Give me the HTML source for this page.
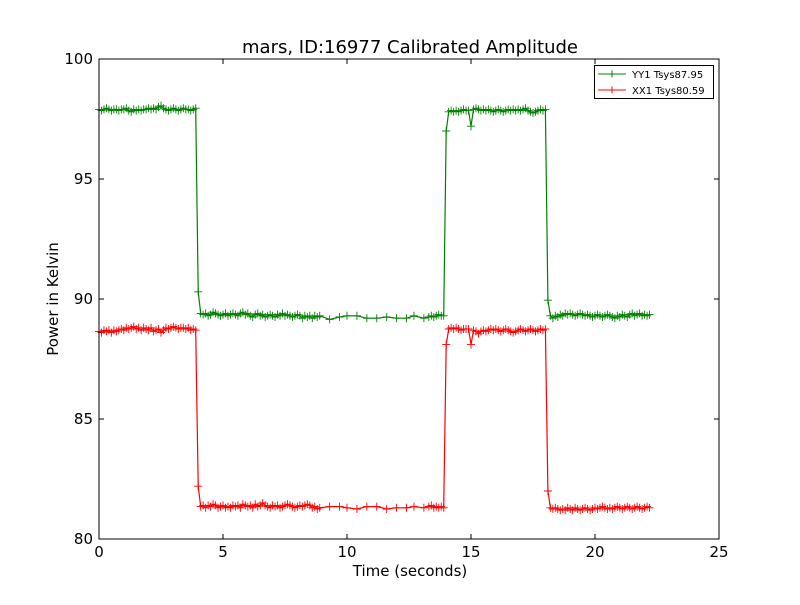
<!DOCTYPE html>
<html><head><meta charset="utf-8"><style>
body{margin:0;background:#fff;}
svg text{font-family:"DejaVu Sans","Liberation Sans",sans-serif;fill:#000;}
</style></head><body>
<svg id="chart" width="800" height="600" viewBox="0 0 800 600" xmlns="http://www.w3.org/2000/svg">
<rect width="800" height="600" fill="#fff"/>
<text x="410" y="53" font-size="18" text-anchor="middle">mars, ID:16977 Calibrated Amplitude</text>
<text x="410" y="576" font-size="15" text-anchor="middle">Time (seconds)</text>
<text transform="translate(58,299) rotate(-90)" font-size="15" text-anchor="middle">Power in Kelvin</text>
<g id="ticks"></g>
<g id="series"></g>
<rect x="99" y="59" width="620" height="480" fill="none" stroke="#000" stroke-width="1"/>
<g>
<rect x="594.5" y="65.5" width="119" height="33" fill="#fff" stroke="#000"/>
<line x1="598" y1="74" x2="626" y2="74" stroke="green"/><line x1="612" y1="70.5" x2="612" y2="77.5" stroke="green"/>
<text x="632" y="78" font-size="10">YY1 Tsys87.95</text>
<line x1="598" y1="90" x2="626" y2="90" stroke="red"/><line x1="612" y1="86.5" x2="612" y2="93.5" stroke="red"/>
<text x="632" y="94" font-size="10">XX1 Tsys80.59</text>
</g>
</svg>
<script>
const times=[0.0,0.1,0.2,0.3,0.4,0.5,0.6,0.7,0.8,0.9,1.0,1.1,1.2,1.3,1.4,1.5,1.6,1.7,1.8,1.9,2.0,2.1,2.2,2.3,2.4,2.5,2.6,2.7,2.8,2.9,3.0,3.1,3.2,3.3,3.4,3.5,3.6,3.7,3.8,3.9,
4.0,
4.1,4.2,4.3,4.4,4.5,4.6,4.7,4.8,4.9,5.0,5.1,5.2,5.3,5.4,5.5,5.6,5.7,5.8,5.9,6.0,6.1,6.2,6.3,6.4,6.5,6.6,6.7,6.8,6.9,7.0,7.1,7.2,7.3,7.4,7.5,7.6,7.7,7.8,7.9,8.0,8.1,8.2,8.3,8.4,8.5,8.6,8.7,8.8,8.9,
9.3,9.7,10.0,10.4,10.8,11.2,11.6,12.0,12.4,12.7,13.1,
13.3,13.4,13.5,13.6,13.7,13.8,13.9,
14.0,
14.1,14.2,14.3,14.4,14.5,14.6,14.7,14.8,14.9,15.0,15.1,15.2,15.3,15.4,15.5,15.6,15.7,15.8,15.9,16.0,16.1,16.2,16.3,16.4,16.5,16.6,16.7,16.8,16.9,17.0,17.1,17.2,17.3,17.4,17.5,17.6,17.7,17.8,17.9,18.0,
18.1,
18.2,18.3,18.4,18.5,18.6,18.7,18.8,18.9,19.0,19.1,19.2,19.3,19.4,19.5,19.6,19.7,19.8,19.9,20.0,20.1,20.2,20.3,20.4,20.5,20.6,20.7,20.8,20.9,21.0,21.1,21.2,21.3,21.4,21.5,21.6,21.7,21.8,21.9,22.0,22.1,22.2];
const yy1=[97.9,97.85,97.9,97.95,97.9,97.85,97.9,97.9,97.85,97.9,97.9,97.95,97.85,97.8,97.9,97.85,97.9,97.85,97.9,97.9,97.95,97.9,97.95,97.9,98.0,98.05,97.95,97.9,97.85,97.9,97.95,97.9,97.85,97.9,97.95,97.9,97.9,97.85,97.9,97.95,
90.3,
89.4,89.35,89.4,89.3,89.35,89.45,89.4,89.35,89.3,89.35,89.4,89.3,89.35,89.4,89.35,89.3,89.4,89.45,89.35,89.4,89.3,89.25,89.35,89.4,89.3,89.35,89.25,89.3,89.35,89.3,89.25,89.35,89.3,89.4,89.3,89.35,89.3,89.25,89.3,89.35,89.3,89.2,89.3,89.25,89.3,89.2,89.3,89.25,89.3,
89.15,89.25,89.3,89.3,89.2,89.2,89.25,89.2,89.2,89.3,89.2,
89.25,89.3,89.25,89.3,89.35,89.3,89.3,
97.0,
97.8,97.85,97.8,97.85,97.8,97.85,97.9,97.85,97.85,97.2,97.9,97.95,97.9,97.85,97.9,97.85,97.9,97.85,97.8,97.85,97.9,97.85,97.8,97.85,97.9,97.85,97.9,97.85,97.9,97.85,97.9,97.95,97.85,97.8,97.75,97.8,97.85,97.9,97.85,97.9,
89.95,
89.3,89.2,89.3,89.25,89.35,89.3,89.4,89.35,89.4,89.35,89.3,89.35,89.4,89.35,89.3,89.35,89.3,89.25,89.3,89.35,89.3,89.25,89.3,89.35,89.3,89.25,89.2,89.3,89.25,89.35,89.3,89.25,89.35,89.4,89.3,89.35,89.4,89.3,89.35,89.3,89.35];
const xx1=[88.65,88.6,88.7,88.65,88.7,88.6,88.7,88.65,88.7,88.75,88.7,88.8,88.75,88.8,88.85,88.75,88.8,88.7,88.8,88.75,88.7,88.8,88.65,88.7,88.75,88.6,88.7,88.8,88.75,88.8,88.85,88.8,88.75,88.8,88.8,88.75,88.8,88.7,88.75,88.7,
82.2,
81.35,81.4,81.3,81.4,81.35,81.45,81.4,81.3,81.35,81.4,81.3,81.35,81.3,81.4,81.35,81.4,81.3,81.45,81.4,81.35,81.4,81.3,81.45,81.35,81.4,81.5,81.4,81.35,81.3,81.4,81.35,81.4,81.3,81.35,81.4,81.45,81.4,81.35,81.3,81.35,81.4,81.35,81.4,81.45,81.4,81.3,81.35,81.25,81.3,
81.35,81.35,81.3,81.25,81.35,81.35,81.25,81.3,81.3,81.35,81.3,
81.35,81.4,81.3,81.35,81.3,81.35,81.3,
88.1,
88.75,88.8,88.75,88.8,88.75,88.7,88.75,88.75,88.75,88.1,88.7,88.65,88.55,88.65,88.7,88.65,88.7,88.75,88.7,88.75,88.7,88.65,88.7,88.75,88.7,88.65,88.6,88.65,88.7,88.75,88.7,88.65,88.7,88.75,88.7,88.65,88.7,88.75,88.7,88.75,
82.0,
81.3,81.25,81.3,81.25,81.2,81.25,81.2,81.3,81.25,81.2,81.3,81.25,81.2,81.25,81.3,81.25,81.2,81.25,81.3,81.25,81.3,81.35,81.3,81.25,81.3,81.25,81.3,81.35,81.3,81.25,81.3,81.35,81.3,81.25,81.3,81.35,81.3,81.25,81.3,81.35,81.3];
const xTicks=[0,5,10,15,20,25];
const yTicks=[80,85,90,95,100];

const NS="http://www.w3.org/2000/svg";
const X0=99,X1=719,Y0=539,Y1=59,xmin=0,xmax=25,ymin=80,ymax=100;
function sx(v){return X0+(v-xmin)/(xmax-xmin)*(X1-X0);}
function sy(v){return Y0-(v-ymin)/(ymax-ymin)*(Y0-Y1);}
function mk(tag,attrs){const e=document.createElementNS(NS,tag);for(const k in attrs)e.setAttribute(k,attrs[k]);return e;}
const tg=document.getElementById('ticks');
xTicks.forEach(v=>{
  const x=sx(v);
  const t=mk('path',{d:`M${x},${Y0}V${Y0-5}M${x},${Y1}V${Y1+5}`,stroke:'#000'});
  
  
  tg.appendChild(t);
  const l=mk('text',{x:x,y:Y0+18,'font-size':15,'text-anchor':'middle'});
  
  
  l.textContent=v;tg.appendChild(l);
});
yTicks.forEach(v=>{
  const y=sy(v);
  const t=mk('path',{d:`M${X0},${y}H${X0+5}M${X1},${y}H${X1-5}`,stroke:'#000'});
  
  
  tg.appendChild(t);
  const l=mk('text',{x:X0-6,y:y+5,'font-size':15,'text-anchor':'end'});
  
  
  l.textContent=v;tg.appendChild(l);
});
const sg=document.getElementById('series');
function drawSeries(vals,color,name){
  const pts=times.map((t,i)=>sx(t).toFixed(1)+','+sy(vals[i]).toFixed(1)).join(' ');
  const pl=mk('polyline',{points:pts,fill:'none',stroke:color,'stroke-width':1.2});
  
  
  sg.appendChild(pl);
  let d='';
  times.forEach((t,i)=>{const x=sx(t),y=sy(vals[i]);d+=`M${x-4},${y}H${x+4}M${x},${y-4}V${y+4}`;});
  const m=mk('path',{d:d,stroke:color,'stroke-width':0.9,fill:'none'});
  
  
  sg.appendChild(m);
}
drawSeries(yy1,'green','yy1-series');
drawSeries(xx1,'red','xx1-series');
</script>
</body></html>
